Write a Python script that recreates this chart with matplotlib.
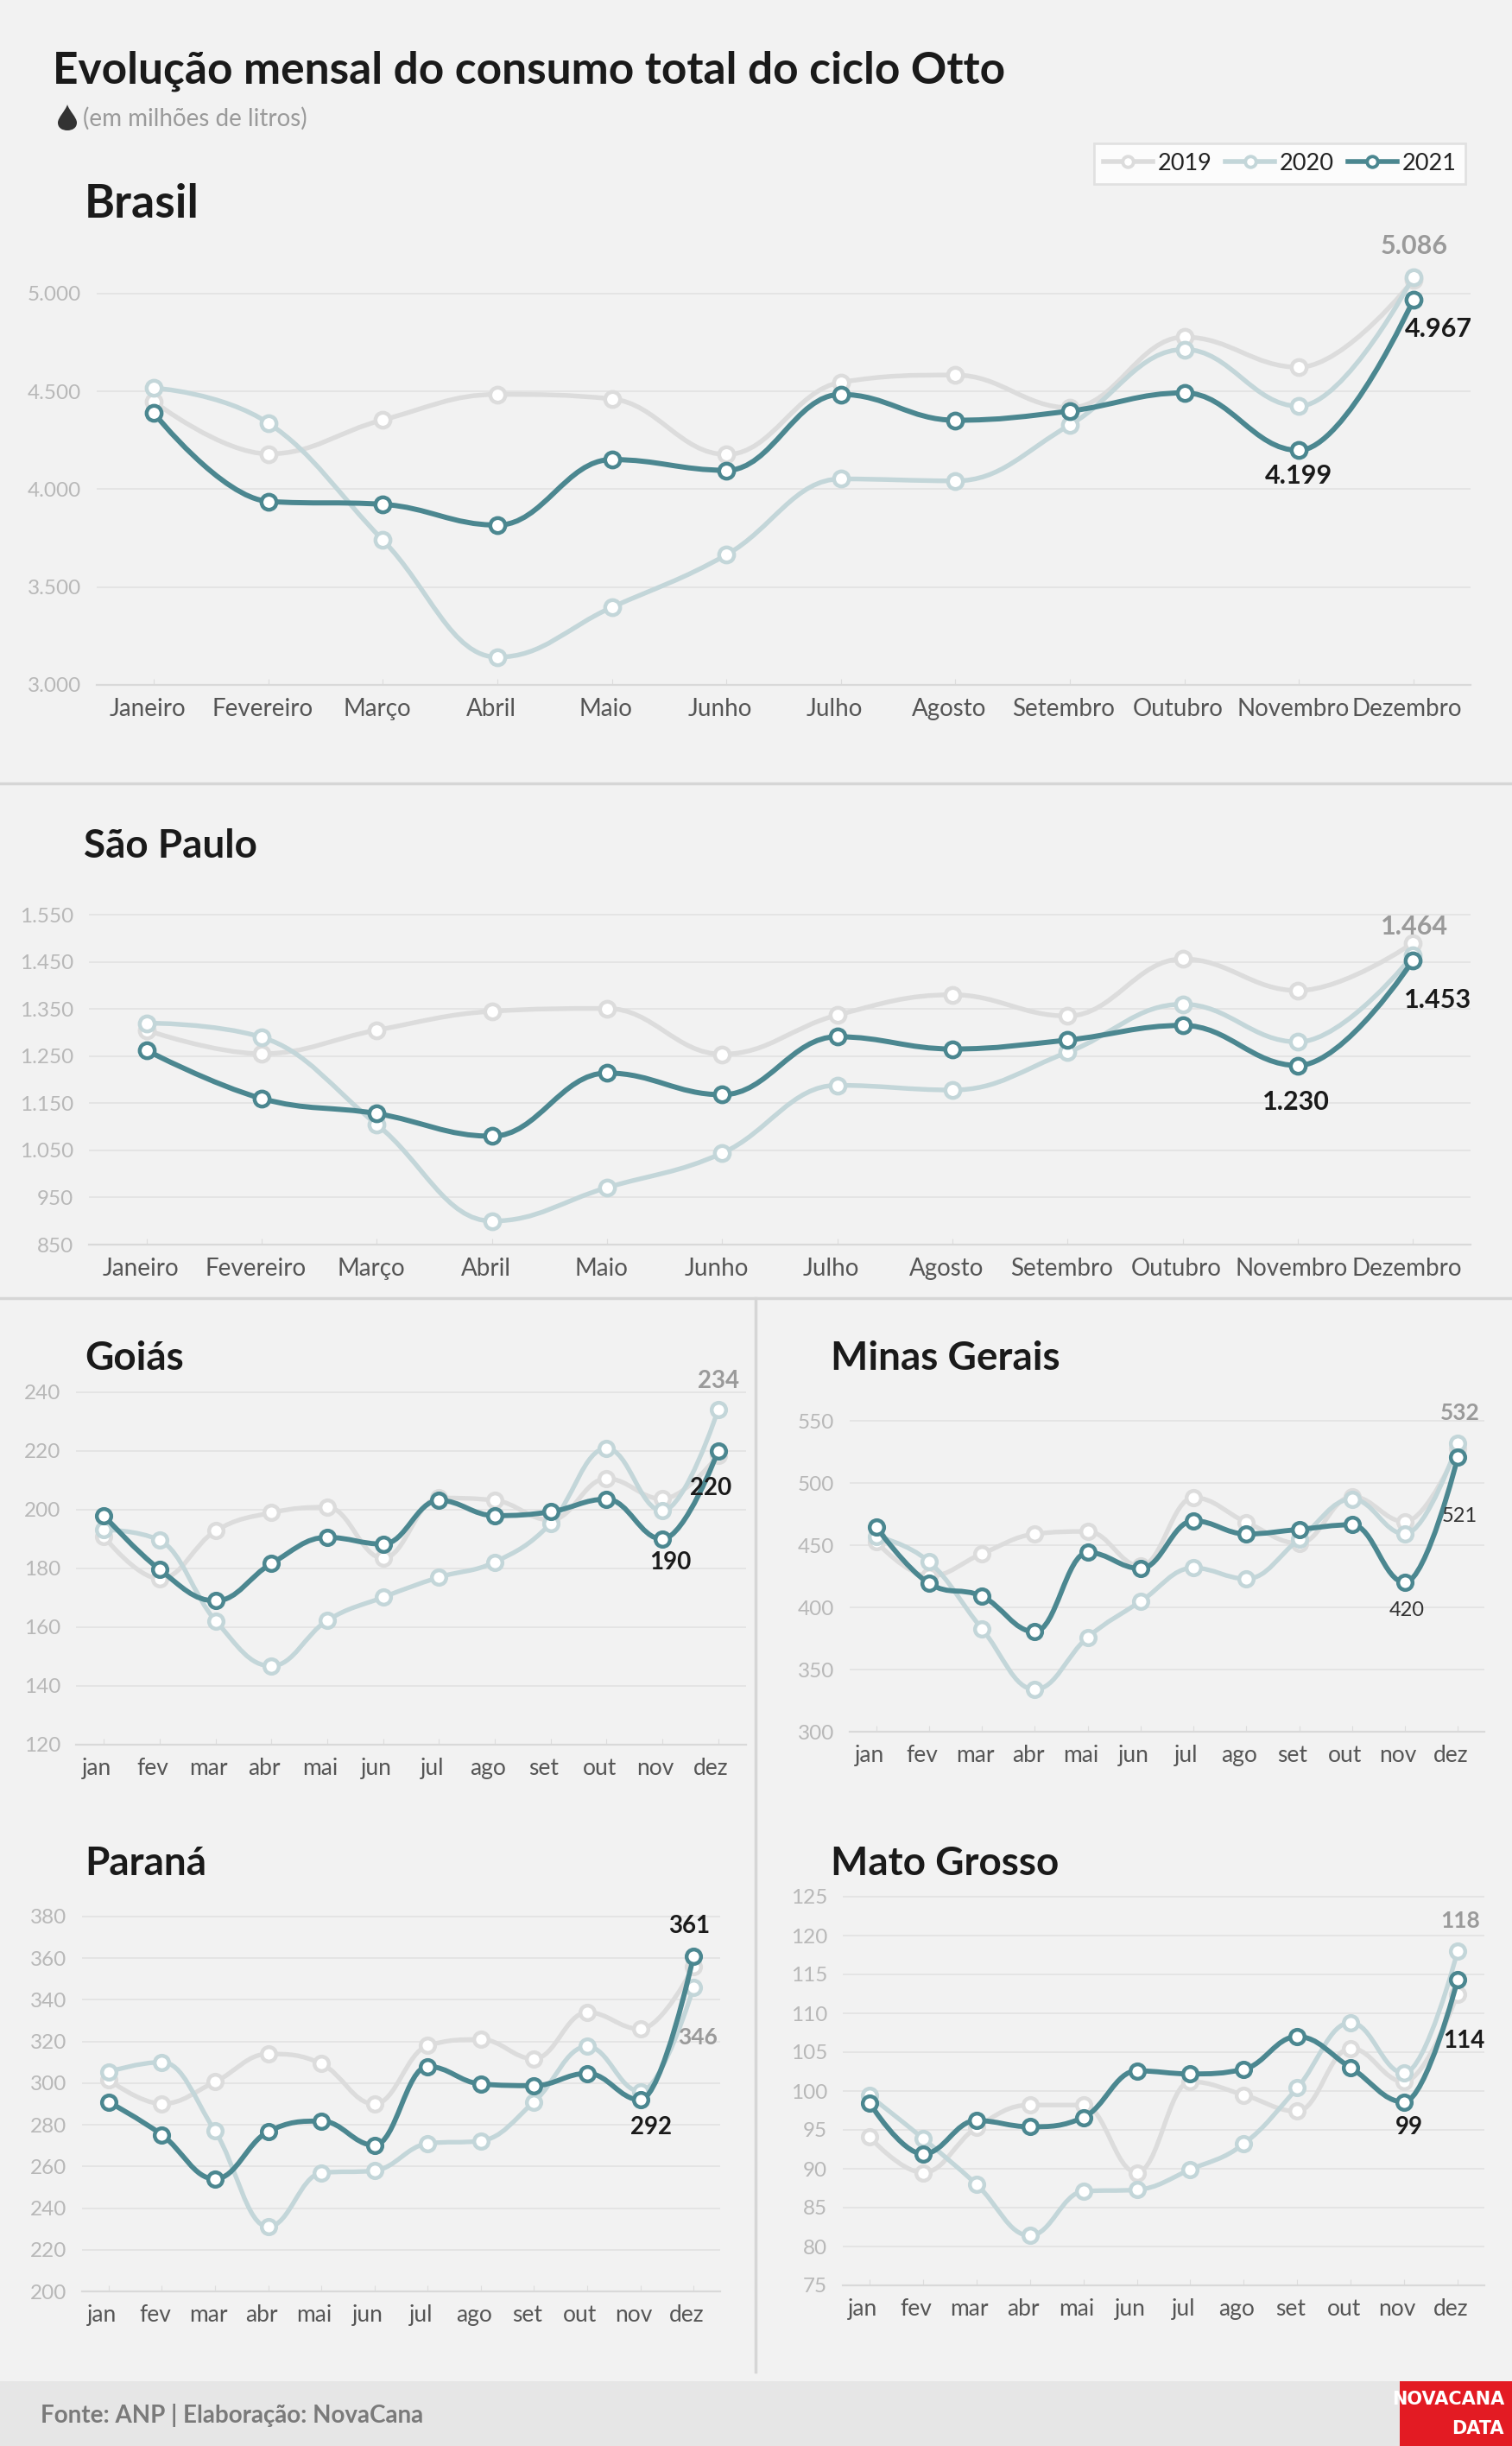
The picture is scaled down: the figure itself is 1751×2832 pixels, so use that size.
import matplotlib
matplotlib.use("Agg")
import matplotlib.pyplot as plt
from matplotlib.path import Path
from matplotlib.patches import PathPatch, Rectangle
from matplotlib.lines import Line2D
from matplotlib.transforms import ScaledTranslation

# ---- data (milhões de litros) ----
months_long = ["Janeiro", "Fevereiro", "Março", "Abril", "Maio", "Junho", "Julho",
               "Agosto", "Setembro", "Outubro", "Novembro", "Dezembro"]
months_short = ["jan", "fev", "mar", "abr", "mai", "jun", "jul", "ago", "set",
                "out", "nov", "dez"]
years = ["2019", "2020", "2021"]

brasil_2019 = [4448, 4181, 4355, 4485, 4462, 4178, 4547, 4584, 4417, 4778, 4624, 5070]
brasil_2020 = [4518, 4338, 3740, 3142, 3397, 3665, 4053, 4043, 4329, 4715, 4425, 5086]
brasil_2021 = [4389, 3938, 3923, 3817, 4152, 4097, 4485, 4353, 4400, 4493, 4199, 4967]

sp_2019 = [1305, 1255, 1305, 1345, 1351, 1254, 1337, 1380, 1335, 1456, 1389, 1490]
sp_2020 = [1320, 1290, 1105, 900, 971, 1044, 1188, 1178, 1258, 1360, 1280, 1464]
sp_2021 = [1262, 1160, 1128, 1080, 1214, 1168, 1291, 1265, 1284, 1315, 1230, 1453]

go_2019 = [190.9, 176.5, 192.8, 199.0, 200.9, 183.5, 204.0, 203.2, 196.5, 210.6, 203.7, 218.6]
go_2020 = [193.2, 189.6, 162.2, 146.8, 162.3, 170.2, 177.0, 182.2, 195.3, 220.9, 199.6, 234.0]
go_2021 = [198.0, 179.6, 169.0, 181.7, 190.6, 188.3, 203.2, 198.0, 199.3, 203.6, 190.0, 220.0]

mg_2019 = [452.8, 425.0, 443.1, 459.0, 461.0, 433.2, 488.2, 468.4, 451.5, 489.0, 468.9, 528.0]
mg_2020 = [457.2, 436.7, 382.8, 334.0, 375.9, 404.7, 431.7, 423.0, 454.8, 487.0, 459.0, 532.0]
mg_2021 = [464.7, 419.3, 408.9, 380.4, 444.1, 431.2, 469.6, 459.0, 462.7, 466.4, 420.0, 521.0]

pr_2019 = [301.7, 290.1, 300.6, 314.0, 309.3, 290.0, 318.0, 321.0, 311.7, 334.0, 326.0, 356.0]
pr_2020 = [305.5, 310.1, 277.0, 231.0, 256.9, 258.0, 271.0, 272.3, 291.0, 317.6, 296.0, 346.0]
pr_2021 = [291.0, 275.2, 254.0, 276.7, 281.8, 270.2, 308.0, 299.6, 298.8, 304.7, 292.0, 361.0]

mt_2019 = [94.1, 89.5, 95.3, 98.2, 98.2, 89.5, 101.2, 99.5, 97.4, 105.5, 101.2, 112.5]
mt_2020 = [99.4, 93.9, 88.0, 81.4, 87.1, 87.3, 89.9, 93.2, 100.4, 108.8, 102.3, 118.0]
mt_2021 = [98.5, 91.9, 96.2, 95.4, 96.6, 102.6, 102.2, 102.8, 107.0, 103.0, 98.6, 114.3]

colors = {"2019": "#dcdcdc", "2020": "#c3d6d9", "2021": "#4b8790"}

W, H = 1751, 2832
plt.rcParams["font.family"] = ["Lato", "DejaVu Sans"]

fig = plt.figure(figsize=(W / 100, H / 100), dpi=100, facecolor="#f2f2f2")


def fx(x):
    return x / W


def fy(y):
    return 1 - y / H


def fmt(v):
    return f"{int(round(v)):,}".replace(",", ".")


def spline_path(xs, ys, smoothing=1.5):
    # Highcharts-like spline through the data points
    n = len(xs)
    den = smoothing + 1
    lc, rc = [None] * n, [None] * n
    for i in range(n):
        px, py = xs[i], ys[i]
        if 0 < i < n - 1:
            lx, ly = xs[i - 1], ys[i - 1]
            nx, ny = xs[i + 1], ys[i + 1]
            lcx = (smoothing * px + lx) / den
            lcy = (smoothing * py + ly) / den
            rcx = (smoothing * px + nx) / den
            rcy = (smoothing * py + ny) / den
            corr = 0
            if rcx != lcx:
                corr = (rcy - lcy) * (rcx - px) / (rcx - lcx) + py - rcy
            lcy += corr
            rcy += corr
            if lcy > ly and lcy > py:
                lcy = max(ly, py)
                rcy = 2 * py - lcy
            elif lcy < ly and lcy < py:
                lcy = min(ly, py)
                rcy = 2 * py - lcy
            if rcy > ny and rcy > py:
                rcy = max(ny, py)
                lcy = 2 * py - rcy
            elif rcy < ny and rcy < py:
                rcy = min(ny, py)
                lcy = 2 * py - rcy
            lc[i], rc[i] = (lcx, lcy), (rcx, rcy)
        else:
            lc[i] = rc[i] = (px, py)
    verts = [(xs[0], ys[0])]
    codes = [Path.MOVETO]
    for i in range(1, n):
        verts += [rc[i - 1], lc[i], (xs[i], ys[i])]
        codes += [Path.CURVE4] * 3
    return Path(verts, codes)


def add_panel(x0, x1, v_lo, y_lo, v_hi, y_hi, ylim):
    scale = (y_lo - y_hi) / (v_hi - v_lo)
    bottom = y_lo + (v_lo - ylim[0]) * scale
    top = y_lo - (ylim[1] - v_lo) * scale
    ax = fig.add_axes([x0 / W, fy(bottom), (x1 - x0) / W, (bottom - top) / H])
    ax.set_xlim(-0.5, 11.5)
    ax.set_ylim(*ylim)
    return ax


def draw_panel(ax, series, yticks, xlabels, xsize, lw=3.9, ms=12.5, xshift=-7):
    ax.set_facecolor("none")
    for s in ["top", "right", "left"]:
        ax.spines[s].set_visible(False)
    ax.spines["bottom"].set_color("#d9d9d9")
    ax.spines["bottom"].set_linewidth(1.6)
    ax.set_yticks(yticks)
    ax.set_yticklabels([fmt(v) for v in yticks])
    ax.grid(axis="y", color="#e2e2e2", linewidth=1.2)
    ax.set_axisbelow(True)
    ax.tick_params(axis="y", length=0, pad=13, labelsize=17.5, labelcolor="#b8b8b8")
    ax.set_xticks(range(12))
    ax.set_xticklabels(xlabels)
    ax.tick_params(axis="x", direction="in", length=5, color="#dddddd", pad=11,
                   labelsize=xsize, labelcolor="#555555")
    shift = ScaledTranslation(xshift / 100, 0, fig.dpi_scale_trans)
    for t in ax.get_xticklabels():
        t.set_transform(t.get_transform() + shift)
    x = list(range(12))
    for k, (yr, vals) in enumerate(zip(years, series)):
        c = colors[yr]
        ax.add_patch(PathPatch(spline_path(x, vals), fill=False, edgecolor=c,
                               linewidth=lw + (0.4 if yr == "2021" else 0),
                               capstyle="round", joinstyle="round", zorder=3 + k))
        ax.plot(x, vals, linestyle="none", marker="o", markersize=ms,
                markerfacecolor="white", markeredgecolor=c, markeredgewidth=3.2,
                zorder=3.5 + k)


def label(ax, i, v, dx, dy, color="#1a1a1a", size=22, weight="bold"):
    ax.annotate(fmt(v), (i, v), xytext=(dx, -dy), textcoords="offset pixels",
                ha="center", va="center", fontsize=size, fontweight=weight,
                color=color, zorder=10)


# ---- header ----
fig.text(fx(61), fy(97), "Evolução mensal do consumo total do ciclo Otto",
         fontsize=37, fontweight="bold", color="#1a1a1a", va="baseline")
drop_pts = [(78, 121), (80, 128), (89, 136), (89, 142), (89, 148), (84, 151),
            (78, 151), (72, 151), (67, 148), (67, 142), (67, 136), (76, 128),
            (78, 121), (78, 121)]
drop_codes = [Path.MOVETO] + [Path.CURVE4] * 12 + [Path.CLOSEPOLY]
drop = Path([(fx(a), fy(b)) for a, b in drop_pts], drop_codes)
fig.add_artist(PathPatch(drop, facecolor="#333333", edgecolor="none",
                         transform=fig.transFigure))
fig.text(fx(96), fy(146), "(em milhões de litros)", fontsize=20,
         color="#9a9a9a", va="baseline")

handles = [Line2D([], [], color=colors[y], linewidth=4, marker="o", markersize=9,
                  markerfacecolor="white", markeredgecolor=colors[y],
                  markeredgewidth=2.8) for y in years]
leg = fig.legend(handles, years, ncol=3, loc="upper right",
                 bbox_to_anchor=(fx(1697), fy(166)), frameon=True, fancybox=False,
                 facecolor="white", edgecolor="#dcdcdc", fontsize=19.5,
                 handlelength=2.1, handletextpad=0.2, columnspacing=0.6,
                 borderpad=0.4, borderaxespad=0, labelcolor="#222222")
leg.get_frame().set_linewidth(2)

# ---- Brasil ----
ax = add_panel(112, 1703, 3000, 793, 5000, 340, (3000, 5250))
draw_panel(ax, [brasil_2019, brasil_2020, brasil_2021], [3000, 3500, 4000, 4500, 5000],
           months_long, 20)
label(ax, 11, brasil_2020[11], 1, -36, color="#9a9a9a")
label(ax, 11, brasil_2021[11], 29, 34)
label(ax, 10, brasil_2021[10], 0, 30)
fig.text(fx(98), fy(252), "Brasil", fontsize=38.5, fontweight="bold",
         color="#1a1a1a", va="baseline")

fig.add_artist(Line2D([0, 1], [fy(907), fy(907)], color="#d6d6d6", linewidth=2.5))

# ---- São Paulo ----
ax = add_panel(103, 1703, 850, 1441, 1550, 1059, (850, 1600))
draw_panel(ax, [sp_2019, sp_2020, sp_2021], [850, 950, 1050, 1150, 1250, 1350, 1450, 1550],
           months_long, 20)
label(ax, 11, sp_2020[11], 2, -33, color="#9a9a9a")
label(ax, 11, sp_2021[11], 29, 46)
label(ax, 10, sp_2021[10], -2, 42)
fig.text(fx(97), fy(993), "São Paulo", fontsize=33, fontweight="bold",
         color="#1a1a1a", va="baseline")

fig.add_artist(Line2D([0, 1], [fy(1503), fy(1503)], color="#d6d6d6", linewidth=2.5))
fig.add_artist(Line2D([fx(875), fx(875)], [fy(1503), fy(2746)], color="#d6d6d6",
                      linewidth=2.5))

# ---- Goiás ----
ax = add_panel(88, 864, 120, 2020, 240, 1612, (120, 250))
draw_panel(ax, [go_2019, go_2020, go_2021], [120, 140, 160, 180, 200, 220, 240],
           months_short, 19, lw=3.8, ms=12, xshift=-8)
label(ax, 11, go_2020[11], 0, -33, color="#9a9a9a", size=20)
label(ax, 11, go_2021[11], -9, 43, size=20)
label(ax, 10, go_2021[10], 9, 27, size=20)
fig.text(fx(98), fy(1586), "Goiás", fontsize=33, fontweight="bold",
         color="#1a1a1a", va="baseline")

# ---- Minas Gerais ----
ax = add_panel(984, 1719, 300, 2005, 550, 1645, (300, 575))
draw_panel(ax, [mg_2019, mg_2020, mg_2021], [300, 350, 400, 450, 500, 550],
           months_short, 19, lw=3.8, ms=12, xshift=-8)
label(ax, 11, mg_2020[11], 2, -35, color="#9a9a9a", size=19)
label(ax, 11, mg_2021[11], 2, 69, color="#333333", size=17, weight="normal")
label(ax, 10, mg_2021[10], 2, 32, color="#333333", size=17, weight="normal")
fig.text(fx(962), fy(1586), "Minas Gerais", fontsize=33, fontweight="bold",
         color="#1a1a1a", va="baseline")

# ---- Paraná ----
ax = add_panel(95, 834, 200, 2653, 380, 2219, (200, 390))
draw_panel(ax, [pr_2019, pr_2020, pr_2021], [200, 220, 240, 260, 280, 300, 320, 340, 360, 380],
           months_short, 19, lw=3.8, ms=12, xshift=-8)
label(ax, 11, pr_2021[11], -5, -35, size=20)
label(ax, 11, pr_2020[11], 5, 58, color="#9a9a9a", size=19)
label(ax, 10, pr_2021[10], 12, 32, size=20)
fig.text(fx(98), fy(2171), "Paraná", fontsize=33, fontweight="bold",
         color="#1a1a1a", va="baseline")

# ---- Mato Grosso ----
ax = add_panel(976, 1719, 75, 2646, 125, 2196, (75, 126))
draw_panel(ax, [mt_2019, mt_2020, mt_2021], [75, 80, 85, 90, 95, 100, 105, 110, 115, 120, 125],
           months_short, 19, lw=3.8, ms=12, xshift=-8)
label(ax, 11, mt_2020[11], 3, -35, color="#9a9a9a", size=19)
label(ax, 11, mt_2021[11], 7, 71, size=20)
label(ax, 10, mt_2021[10], 6, 29, size=20)
fig.text(fx(962), fy(2171), "Mato Grosso", fontsize=33, fontweight="bold",
         color="#1a1a1a", va="baseline")

# ---- footer ----
fig.add_artist(Rectangle((0, 0), 1, 75 / H, transform=fig.transFigure,
                         facecolor="#e6e6e6", edgecolor="none", zorder=0))
fig.text(fx(47), fy(2796), "Fonte: ANP | Elaboração: NovaCana", fontsize=20,
         fontweight="bold", color="#7a7a7a", va="center")
fig.add_artist(Rectangle((fx(1621), 0), 130 / W, 75 / H, transform=fig.transFigure,
                         facecolor="#e31b23", edgecolor="none", zorder=1))
fig.text(fx(1742), fy(2778), "NOVACANA", fontsize=15, fontweight="bold",
         color="white", ha="right", va="center",
         family=["Liberation Sans Narrow", "DejaVu Sans"])
fig.text(fx(1742), fy(2812), "DATA", fontsize=15, fontweight="bold",
         color="white", ha="right", va="center",
         family=["Liberation Sans Narrow", "DejaVu Sans"])

fig.savefig("out.png", dpi=100, facecolor=fig.get_facecolor())
